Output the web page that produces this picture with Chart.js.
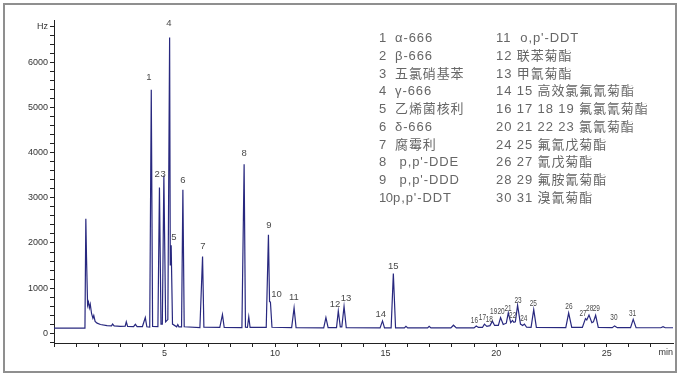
<!DOCTYPE html>
<html>
<head>
<meta charset="utf-8">
<script src="https://cdn.jsdelivr.net/npm/chart.js@4"></script>
<style>
  html, body { margin: 0; padding: 0; background: #fff; }
  #wrap { position: relative; width: 679px; height: 376px; overflow: hidden; }
  #c { position: absolute; left: 0; top: 0; }
  #frame { position: absolute; left: 3px; top: 3px; width: 670px; height: 366px; border: 2px solid #8f8f8f; pointer-events: none; }
  .leg { position: absolute; font-family: "Liberation Sans", Arial, "Noto Sans CJK SC", sans-serif; font-size: 13px; color: #666; white-space: pre; letter-spacing: 0.9px; line-height: 15px; }
</style>
</head>
<body>
<div id="wrap">
  <canvas id="c" width="679" height="376"></canvas>
  <div id="legend"></div>
  <div id="frame"></div>
</div>
<script>
// ---- data (time in min, signal in Hz) ----
const times = [
  0, 1.40, 1.44, 1.47, 1.52, 1.56, 1.60, 1.64, 1.70, 1.76, 1.80, 1.86, 1.95, 2.10, 2.40, 2.60, 2.65, 2.72,
  3.00, 3.22, 3.27, 3.33, 3.60, 3.68, 3.76, 4.00, 4.13, 4.20, 4.33, 4.40, 4.46, 4.70, 4.77, 4.84, 4.90,
  4.97, 5.05, 5.15, 5.23, 5.26, 5.30, 5.36, 5.55, 5.60, 5.65, 5.77, 5.83, 5.89, 6.60, 6.72, 6.78, 7.50,
  7.62, 7.70, 8.50, 8.60, 8.66, 8.75, 8.81, 8.87, 9.60, 9.70, 9.75, 9.79, 9.86, 10.75, 10.86, 10.95,
  12.20, 12.30, 12.40, 12.78, 12.86, 12.95, 13.02, 13.12, 13.22, 14.75, 14.86, 14.95, 15.25, 15.35, 15.45,
  15.85, 15.92, 16.00, 16.90, 16.97, 17.05, 17.95, 18.07, 18.20, 19.00, 19.10, 19.20, 19.38, 19.47, 19.58,
  19.72, 19.83, 19.93, 20.10, 20.20, 20.32, 20.46, 20.55, 20.66, 20.74, 20.80, 20.87, 20.97, 21.10, 21.20,
  21.28, 21.38, 21.58, 21.70, 21.82, 23.15, 23.28, 23.42, 23.90, 24.04, 24.10, 24.20, 24.33, 24.40, 24.50,
  24.62, 25.25, 25.36, 25.48, 26.08, 26.20, 26.33, 27.45, 27.55, 27.65, 28
];
const signal = [
  112, 112, 2540, 1700, 620, 690, 560, 640, 430, 330, 390, 260, 220, 190, 165, 160, 200, 158,
  150, 155, 250, 150, 145, 195, 145, 145, 345, 140, 135, 5400, 150, 145, 3230, 200, 200,
  3500, 250, 300, 6560, 1500, 1950, 200, 140, 190, 140, 140, 3180, 140, 120, 1700, 130, 125,
  410, 125, 120, 3750, 130, 125, 360, 125, 125, 2180, 700, 690, 130, 120, 560, 120,
  115, 345, 120, 120, 490, 140, 140, 590, 120, 115, 270, 115, 115, 1320, 115,
  115, 150, 115, 115, 150, 115, 115, 175, 115, 115, 155, 125, 125, 200, 150,
  165, 265, 170, 170, 345, 190, 220, 450, 230, 280, 240, 250, 620, 200, 170,
  200, 130, 125, 520, 125, 120, 445, 125, 125, 320, 290, 400, 230, 250, 395,
  125, 120, 160, 120, 120, 305, 120, 118, 140, 118, 118
];

// peak number labels: text, retention time, label height (Hz)
const peakLabels = ["1","2","3","4","5","6","7","8","9","10","11","12","13","14","15",
  "16","17","18","19","20","21","22","23","24","25","26","27","28","29","30","31"];
const peakLabelTimes = [4.29, 4.67, 4.94, 5.20, 5.42, 5.83, 6.74, 8.60, 9.72, 10.07, 10.85, 12.71, 13.21, 14.78, 15.35,
  19.02, 19.38, 19.69, 19.89, 20.22, 20.54, 20.75, 20.99, 21.25, 21.68, 23.29, 23.93, 24.23, 24.53, 25.33, 26.17];
const peakLabelHeights = [5680, 3520, 3520, 6870, 2130, 3400, 1920, 3980, 2380, 870, 790, 630, 760, 410, 1480,
  280, 335, 310, 480, 480, 540, 390, 725, 320, 650, 590, 445, 555, 540, 335, 445];

// axis ticks
const yMajorTicks = [0, 1000, 2000, 3000, 4000, 5000, 6000];
const yUnitTickValue = 6800;
const yUnitLabel = "Hz";
const xMajorTicks = [5, 10, 15, 20, 25];
const xUnitLabel = "min";

// legend (compound list)
const legendCol1Nums = ["1","2","3","4","5","6","7","8","9","10"];
const legendCol1Names = ["α-666","β-666","五氯硝基苯","γ-666","乙烯菌核利","δ-666","腐霉利"," p,p'-DDE"," p,p'-DDD","p,p'-DDT"];
const legendCol2 = ["11  o,p'-DDT","12 联苯菊酯","13 甲氰菊酯","14 15 高效氯氟氰菊酯","16 17 18 19 氟氯氰菊酯",
  "20 21 22 23 氯氰菊酯","24 25 氟氰戊菊酯","26 27 氰戊菊酯","28 29 氟胺氰菊酯","30 31 溴氰菊酯"];

// ---- legend as HTML text ----
const legEl = document.getElementById('legend');
legendCol1Nums.forEach((n, i) => {
  const top = 30 + i * 17.75;
  const a = document.createElement('div');
  a.className = 'leg'; a.style.left = '379px'; a.style.top = top + 'px'; a.textContent = n;
  if (n.length > 1) a.style.letterSpacing = '-0.6px';
  legEl.appendChild(a);
  const b = document.createElement('div');
  b.className = 'leg'; b.style.left = (n.length > 1 ? 393 : 395) + 'px'; b.style.top = top + 'px'; b.textContent = legendCol1Names[i];
  legEl.appendChild(b);
});
legendCol2.forEach((s, i) => {
  const top = 30 + i * 17.75;
  const a = document.createElement('div');
  a.className = 'leg'; a.style.left = '496px'; a.style.top = top + 'px'; a.textContent = s;
  legEl.appendChild(a);
});

// ---- chart ----
const points = times.map((t, i) => ({ x: t, y: signal[i] }));

const yTickValues = [];
for (let v = -200; v <= yUnitTickValue; v += 200) yTickValues.push(v);
const xTickValues = [];
for (let v = 0; v <= 27; v += 1) xTickValues.push(v);

const extrasPlugin = {
  id: 'extras',
  afterDatasetsDraw(chart) {
    const ctx = chart.ctx;
    const xs = chart.scales.x, ys = chart.scales.y;
    ctx.save();
    ctx.fillStyle = '#4a4a4a';
    ctx.textAlign = 'center';
    ctx.textBaseline = 'middle';
    peakLabels.forEach((lab, i) => {
      const px = xs.getPixelForValue(peakLabelTimes[i]);
      const py = ys.getPixelForValue(peakLabelHeights[i]);
      const n = parseInt(lab, 10);
      ctx.save();
      ctx.translate(px, py);
      if (n >= 16) {
        ctx.scale(0.72, 1);
        ctx.font = '9px "Liberation Sans", Arial, sans-serif';
      } else {
        ctx.font = '9.5px "Liberation Sans", Arial, sans-serif';
      }
      ctx.fillText(lab, 0, 0);
      ctx.restore();
    });
    // x-axis unit
    ctx.fillStyle = '#333';
    ctx.font = '9px "Liberation Sans", Arial, sans-serif';
    ctx.textAlign = 'right';
    ctx.fillText(xUnitLabel, xs.right, xs.top + 10);
    ctx.restore();
  }
};

new Chart(document.getElementById('c'), {
  type: 'line',
  data: {
    datasets: [{
      data: points,
      borderColor: '#28287f',
      borderWidth: 1.2,
      pointRadius: 0,
      tension: 0,
      fill: false
    }]
  },
  options: {
    responsive: false,
    animation: false,
    events: [],
    layout: { padding: { left: 0, top: 20, right: 6, bottom: 0 } },
    plugins: { legend: { display: false }, tooltip: { enabled: false }, title: { display: false } },
    scales: {
      x: {
        type: 'linear',
        min: 0, max: 28,
        afterFit(scale) { scale.height = 33; },
        afterBuildTicks(scale) { scale.ticks = xTickValues.map(v => ({ value: v })); },
        grid: { drawOnChartArea: false, drawTicks: true, tickLength: 4, tickColor: '#222' },
        border: { display: true, color: '#222', width: 1 },
        ticks: {
          autoSkip: false, maxRotation: 0, padding: 1,
          color: '#333', font: { family: '"Liberation Sans", Arial, sans-serif', size: 9 },
          callback: (v) => xMajorTicks.includes(v) ? String(v) : ''
        }
      },
      y: {
        type: 'linear',
        min: -220, max: 6950,
        afterFit(scale) { scale.width = 54; },
        afterBuildTicks(scale) { scale.ticks = yTickValues.map(v => ({ value: v })); },
        grid: { drawOnChartArea: false, drawTicks: true, tickLength: 4, tickColor: '#222' },
        border: { display: true, color: '#222', width: 1 },
        ticks: {
          autoSkip: false, padding: 2,
          color: '#333', font: { family: '"Liberation Sans", Arial, sans-serif', size: 9 },
          callback: (v) => yMajorTicks.includes(v) ? String(v) : (v === yUnitTickValue ? yUnitLabel : '')
        }
      }
    }
  },
  plugins: [extrasPlugin]
});
</script>
</body>
</html>
